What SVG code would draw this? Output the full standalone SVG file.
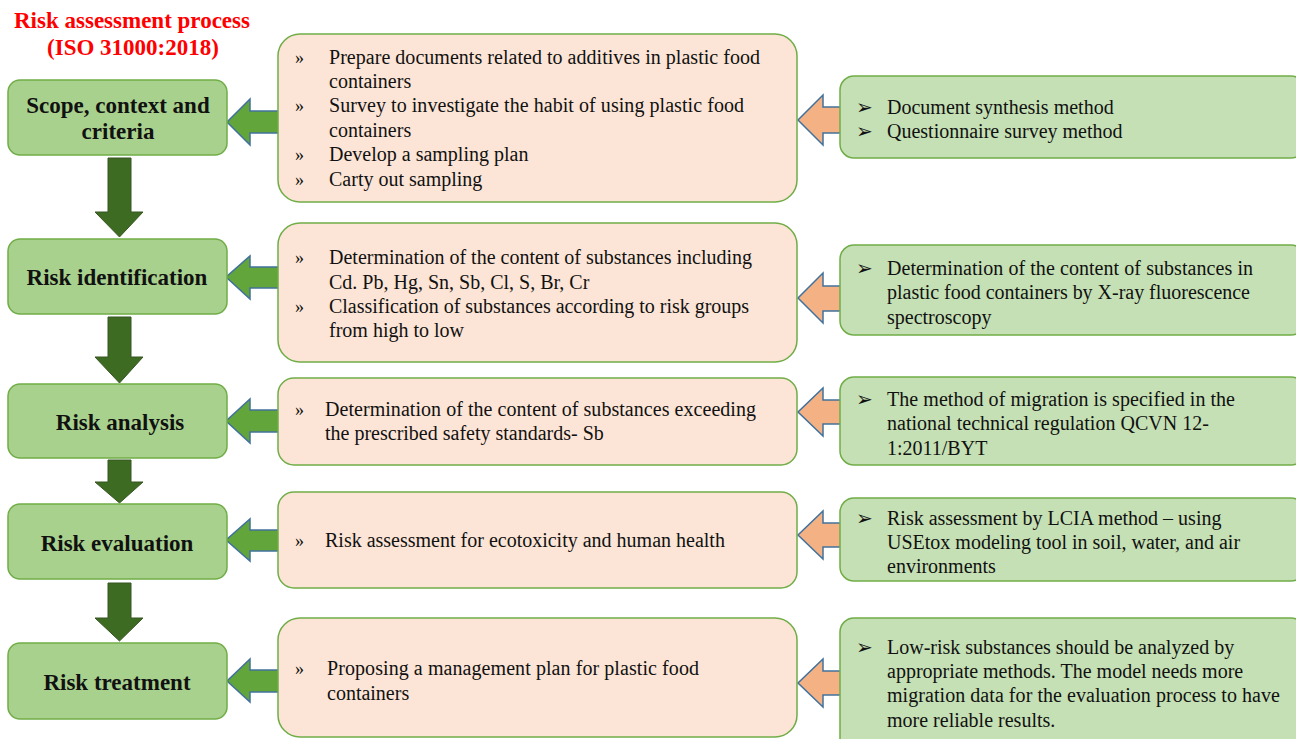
<svg xmlns="http://www.w3.org/2000/svg" width="1296" height="739" viewBox="0 0 1296 739">
<style>
.step{fill:#a9d18e;stroke:#70ad47;stroke-width:1.5}
.task{fill:#fce5d6;stroke:#70ad47;stroke-width:1.5}
.meth{fill:#c5e0b4;stroke:#70ad47;stroke-width:1.5}
.down{fill:#3d6b21;stroke:#375623;stroke-width:1}
.garr{fill:#62a53a;stroke:#41719c;stroke-width:1.5}
.parr{fill:#f4b183;stroke:#41719c;stroke-width:1.5}
.lbl{font-family:"Liberation Serif","Times New Roman",serif;font-weight:bold;font-size:23px;fill:#111;text-anchor:middle}
.title{font-family:"Liberation Serif","Times New Roman",serif;font-weight:bold;font-size:23px;fill:#ff0000;text-anchor:middle}
.t{font-family:"Liberation Serif","Times New Roman",serif;font-size:20px;fill:#111}
.b{font-family:"Liberation Serif","Times New Roman",serif;font-size:18px;fill:#111}
.m{font-family:"DejaVu Sans",sans-serif;font-size:20px;fill:#111}
</style>
<g id="title">
<text class="title" x="132" y="28">Risk assessment process</text>
<text class="title" x="133" y="55">(ISO 31000:2018)</text>
</g>
<g id="connectors">
<path class="down" d="M108,158 H131 V212 H143 L119.5,237 L95,212 H108 Z"/>
<path class="down" d="M108,317 H131 V357 H143 L119.5,383 L95,357 H108 Z"/>
<path class="down" d="M108,460 H131 V482 H143 L119.5,503 L95,482 H108 Z"/>
<path class="down" d="M108,583 H131 V618 H143 L119.5,641 L95,618 H108 Z"/>
<path class="garr" d="M278,111 H250 V99 L227,122 L250,145 V133 H278"/>
<path class="garr" d="M278,267 H250 V256 L226,277 L250,299 V288 H278"/>
<path class="garr" d="M278,410 H250 V399 L226,421 L250,443 V432 H278"/>
<path class="garr" d="M278,530 H250 V519 L226,540 L250,561 V551 H278"/>
<path class="garr" d="M278,670 H250 V659 L227,681 L250,702 V692 H278"/>
<path class="parr" d="M840,107 H823 V95 L798,120 L823,145 V133 H840"/>
<path class="parr" d="M840,286 H823 V273 L798,298 L823,323 V311 H840"/>
<path class="parr" d="M840,400 H823 V388 L798,412 L823,436 V424 H840"/>
<path class="parr" d="M840,523 H823 V511 L798,535 L823,559 V547 H840"/>
<path class="parr" d="M840,671 H823 V659 L798,683 L823,707 V695 H840"/>
</g>
<g id="step1"><rect class="step" x="8" y="80" width="219" height="75" rx="12"/>
<text class="lbl" x="118" y="113">Scope, context and</text><text class="lbl" x="118" y="139">criteria</text></g>
<g id="step2"><rect class="step" x="8" y="239" width="219" height="75" rx="12"/>
<text class="lbl" x="117" y="285">Risk identification</text></g>
<g id="step3"><rect class="step" x="8" y="384" width="219" height="74" rx="12"/>
<text class="lbl" x="120" y="430">Risk analysis</text></g>
<g id="step4"><rect class="step" x="8" y="504" width="219" height="75" rx="12"/>
<text class="lbl" x="117" y="551">Risk evaluation</text></g>
<g id="step5"><rect class="step" x="8" y="643" width="219" height="76" rx="12"/>
<text class="lbl" x="117" y="690">Risk treatment</text></g>

<g id="task1"><rect class="task" x="278" y="34" width="519" height="168" rx="22"/>
<text class="b" x="295" y="64">»</text><text class="t" x="329" y="64" textLength="431" lengthAdjust="spacing">Prepare documents related to additives in plastic food</text>
<text class="t" x="329" y="88">containers</text>
<text class="b" x="295" y="112">»</text><text class="t" x="329" y="112" textLength="415" lengthAdjust="spacing">Survey to investigate the habit of using plastic food</text>
<text class="t" x="329" y="137">containers</text>
<text class="b" x="295" y="161">»</text><text class="t" x="329" y="161">Develop a sampling plan</text>
<text class="b" x="295" y="186">»</text><text class="t" x="329" y="186">Carty out sampling</text></g>

<g id="task2"><rect class="task" x="278" y="223" width="519" height="139" rx="22"/>
<text class="b" x="295" y="264">»</text><text class="t" x="329" y="264" textLength="423" lengthAdjust="spacing">Determination of the content of substances including</text>
<text class="t" x="329" y="289">Cd. Pb, Hg, Sn, Sb, Cl, S, Br, Cr</text>
<text class="b" x="295" y="313">»</text><text class="t" x="329" y="313" textLength="420" lengthAdjust="spacing">Classification of substances according to risk groups</text>
<text class="t" x="329" y="337">from high to low</text></g>

<g id="task3"><rect class="task" x="278" y="378" width="519" height="87" rx="16"/>
<text class="b" x="295" y="416">»</text><text class="t" x="325" y="416" textLength="431" lengthAdjust="spacing">Determination of the content of substances exceeding</text>
<text class="t" x="325" y="440">the prescribed safety standards- Sb</text></g>

<g id="task4"><rect class="task" x="278" y="492" width="519" height="96" rx="16"/>
<text class="b" x="295" y="547">»</text><text class="t" x="325" y="547">Risk assessment for ecotoxicity and human health</text></g>

<g id="task5"><rect class="task" x="278" y="618" width="519" height="119" rx="22"/>
<text class="b" x="295" y="675">»</text><text class="t" x="327" y="675" textLength="372" lengthAdjust="spacing">Proposing a management plan for plastic food</text>
<text class="t" x="327" y="700">containers</text></g>

<g id="method1"><rect class="meth" x="840" y="76" width="465" height="82" rx="14"/>
<text class="m" x="856" y="114">➢</text><text class="t" x="887" y="114">Document synthesis method</text>
<text class="m" x="856" y="138">➢</text><text class="t" x="887" y="138">Questionnaire survey method</text></g>

<g id="method2"><rect class="meth" x="840" y="245" width="465" height="90" rx="14"/>
<text class="m" x="856" y="275">➢</text><text class="t" x="887" y="275" textLength="366" lengthAdjust="spacing">Determination of the content of substances in</text>
<text class="t" x="887" y="299" textLength="363" lengthAdjust="spacing">plastic food containers by X-ray fluorescence</text>
<text class="t" x="887" y="324">spectroscopy</text></g>

<g id="method3"><rect class="meth" x="840" y="377" width="465" height="88" rx="14"/>
<text class="m" x="856" y="406">➢</text><text class="t" x="887" y="406" textLength="348" lengthAdjust="spacing">The method of migration is specified in the</text>
<text class="t" x="887" y="430" textLength="322" lengthAdjust="spacing">national technical regulation QCVN 12-</text>
<text class="t" x="887" y="455">1:2011/BYT</text></g>

<g id="method4"><rect class="meth" x="840" y="498" width="465" height="83" rx="14"/>
<text class="m" x="856" y="525">➢</text><text class="t" x="887" y="525">Risk assessment by LCIA method – using</text>
<text class="t" x="887" y="549">USEtox modeling tool in soil, water, and air</text>
<text class="t" x="887" y="573">environments</text></g>

<g id="method5"><rect class="meth" x="840" y="618" width="465" height="135" rx="14"/>
<text class="m" x="856" y="654">➢</text><text class="t" x="887" y="654">Low-risk substances should be analyzed by</text>
<text class="t" x="887" y="678">appropriate methods. The model needs more</text>
<text class="t" x="887" y="702" textLength="393" lengthAdjust="spacing">migration data for the evaluation process to have</text>
<text class="t" x="887" y="727">more reliable results.</text></g>
</svg>
